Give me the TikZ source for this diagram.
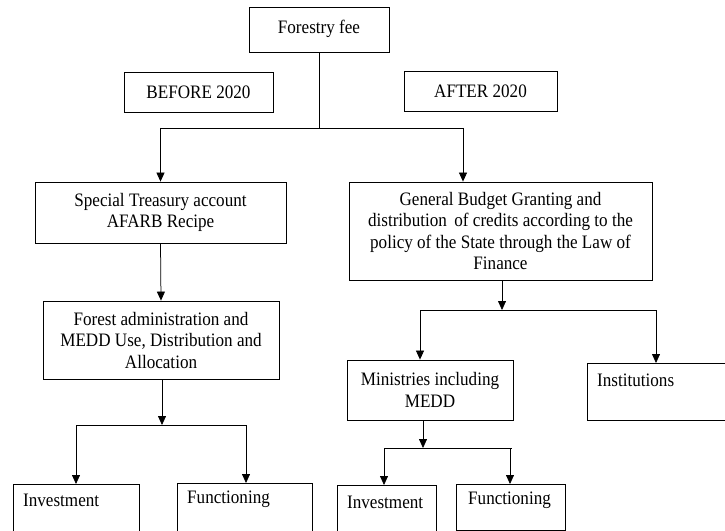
\documentclass[tikz,border=0pt]{standalone}
\usepackage{fontspec}
\setmainfont[FakeStretch=0.9]{Liberation Serif}
\usetikzlibrary{arrows.meta}
\begin{document}
\begin{tikzpicture}[x=1bp,y=-1bp,
  box/.style={draw, line width=0.8bp, inner sep=0pt, align=center,
    font=\fontsize{19bp}{21.5bp}\selectfont},
  tbox/.style={draw, line width=0.8bp, inner sep=0pt},
  lbl/.style={anchor=west, inner sep=0pt, font=\fontsize{19bp}{21.5bp}\selectfont},
  conn/.style={line width=0.75bp},
  arr/.style={line width=0.75bp, -{Triangle[length=9bp,width=8bp]}}]
\clip (0,0) rectangle (725,531);
\useasboundingbox (0,0) rectangle (725,531);
% boxes
\node[box, minimum width=140bp, minimum height=45bp] (fee) at (319,29.5) {\raisebox{5bp}{Forestry fee}};
\node[box, minimum width=149bp, minimum height=40bp] (before) at (198.5,92) {BEFORE 2020};
\node[box, minimum width=153bp, minimum height=40bp] (after) at (480.5,91) {AFTER 2020};
\node[box, minimum width=251bp, minimum height=61bp] (sta) at (160.5,212.5) {Special Treasury account\\AFARB Recipe};
\node[box, minimum width=236bp, minimum height=78bp] (fa) at (161,340) {Forest administration and\\MEDD Use, Distribution and\\Allocation};
\node[box, minimum width=303bp, minimum height=98bp] (gb) at (500.5,231) {General Budget Granting and\\distribution\, of credits according to the\\policy of the State through the Law of\\Finance};
\node[box, minimum width=166bp, minimum height=60bp] (min) at (430,390) {Ministries including\\MEDD};
\node[tbox, minimum width=150bp, minimum height=57bp, anchor=north west] (inst) at (587,363) {};
\node[lbl] (instt) at (597,380) {Institutions};
\node[tbox, minimum width=126bp, minimum height=60bp, anchor=north west] (inv1) at (13,484) {};
\node[lbl] (inv1t) at (23,500) {Investment};
\node[tbox, minimum width=135bp, minimum height=60bp, anchor=north west] (fun1) at (177,483) {};
\node[lbl] (fun1t) at (187,499) {Functioning};
\node[tbox, minimum width=99bp, minimum height=60bp, anchor=north west] (inv2) at (337,485) {};
\node[lbl] (inv2t) at (347,502) {Investment};
\node[tbox, minimum width=109bp, minimum height=46bp, anchor=north west] (fun2) at (456,484) {};
\node[lbl] (fun2t) at (468,500) {Functioning};
% junction coordinates
\coordinate (j1) at (319,128);
\coordinate (j1l) at (160.5,128);
\coordinate (j1r) at (463,128);
\coordinate (j2) at (162,425);
\coordinate (j2l) at (76,425);
\coordinate (j2r) at (246,425);
\coordinate (j3) at (502,310);
\coordinate (j3l) at (420,310);
\coordinate (j3r) at (656,310);
\coordinate (j4) at (423,448);
\coordinate (j4l) at (384,448);
\coordinate (j4r) at (512,448);
% connectors
\draw[conn] (fee.south) -- (j1);
\draw[conn] (j1l) -- (j1r);
\draw[arr] (j1l) -- (sta.north);
\draw[arr] (j1r) -- (j1r |- gb.north);
\draw[arr] (sta.south) -- (fa.north);
\draw[arr] (j2 |- fa.south) -- (j2);
\draw[conn] (j2l) -- (j2r);
\draw[arr] (j2l) -- (j2l |- inv1.north);
\draw[arr] (j2r) -- (j2r |- fun1.north);
\draw[arr] (j3 |- gb.south) -- (j3);
\draw[conn] (j3l) -- (j3r);
\draw[arr] (j3l) -- (j3l |- min.north);
\draw[arr] (j3r) -- (j3r |- inst.north);
\draw[arr] (j4 |- min.south) -- (j4);
\draw[conn] (j4l) -- (j4r);
\draw[arr] (j4l) -- (j4l |- inv2.north);
\draw[arr] ([xshift=-2bp]j4r) -- ([xshift=-2bp]j4r |- fun2.north);
\end{tikzpicture}
\end{document}
